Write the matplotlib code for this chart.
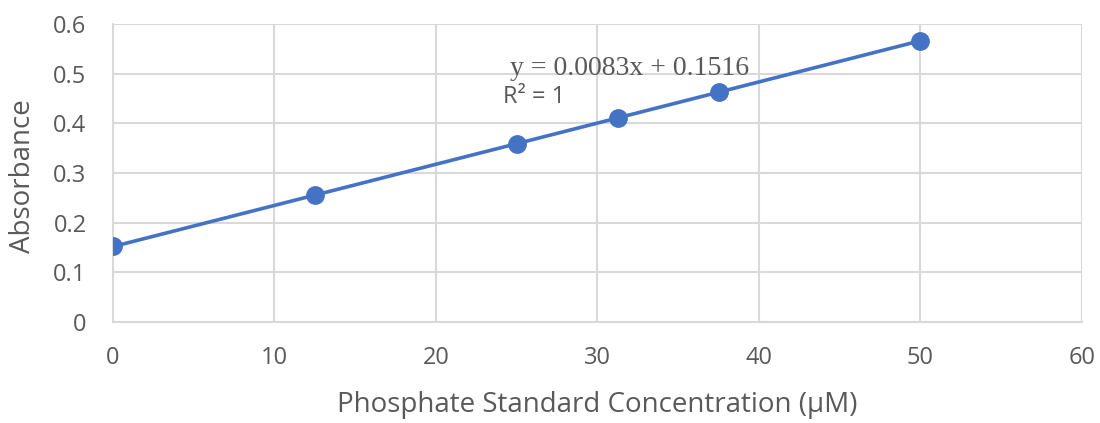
import numpy as np
import matplotlib
matplotlib.use("Agg")
import matplotlib.pyplot as plt

# standard curve data
conc = [0, 12.5, 25, 31.25, 37.5, 50]
absorb = [0.152, 0.255, 0.359, 0.411, 0.463, 0.566]
x_ticks = [0, 10, 20, 30, 40, 50, 60]
y_ticks = [0, 0.1, 0.2, 0.3, 0.4, 0.5, 0.6]
y_labels = ["0", "0.1", "0.2", "0.3", "0.4", "0.5", "0.6"]

blue = "#4472C4"
grid_col = "#d9d9d9"
text_col = "#595959"

plt.rcParams['font.family'] = ['Open Sans', 'DejaVu Sans']

fig = plt.figure(figsize=(11, 4.23), dpi=100)
ax = fig.add_axes([0.1027, 0.2388, 0.8809, 0.7045])

# linear trendline from a fit of the points
slope, intercept = np.polyfit(conc, absorb, 1)
xs = np.array([min(conc), max(conc)])
ax.plot(xs, slope * xs + intercept, color=blue, lw=2.6, zorder=3)
ax.plot(conc, absorb, 'o', color=blue, markersize=12.5, zorder=4)

ax.set_xlim(0, 60)
ax.set_ylim(0, 0.6)
ax.set_xticks(x_ticks)
ax.set_yticks(y_ticks)
ax.set_yticklabels(y_labels)
ax.grid(True, color=grid_col, lw=1.5)
ax.set_axisbelow(True)
for s in ax.spines.values():
    s.set_visible(False)
for side in ['left', 'bottom']:
    ax.spines[side].set_visible(True)
    ax.spines[side].set_color(grid_col)
    ax.spines[side].set_linewidth(1.5)
ax.tick_params(length=0, colors=text_col, labelsize=17)
ax.tick_params(axis='x', pad=17)
ax.tick_params(axis='y', pad=19)

fig.text(597 / 1100, 1 - 405 / 423, "Phosphate Standard Concentration (μM)",
         fontsize=20, color=text_col, ha='center', va='center')
fig.text(23 / 1100, 1 - 176 / 423, "Absorbance", rotation=90,
         fontsize=20, color=text_col, ha='center', va='center')

ax.text(24.6, 0.511, "y = 0.0083x + 0.1516", family=['Liberation Serif'], fontsize=20,
        color=text_col, va='center', ha='left')
ax.text(24.15, 0.453, "R² = 1", fontsize=17,
        color=text_col, va='center', ha='left')

fig.savefig("out.png", dpi=100)
